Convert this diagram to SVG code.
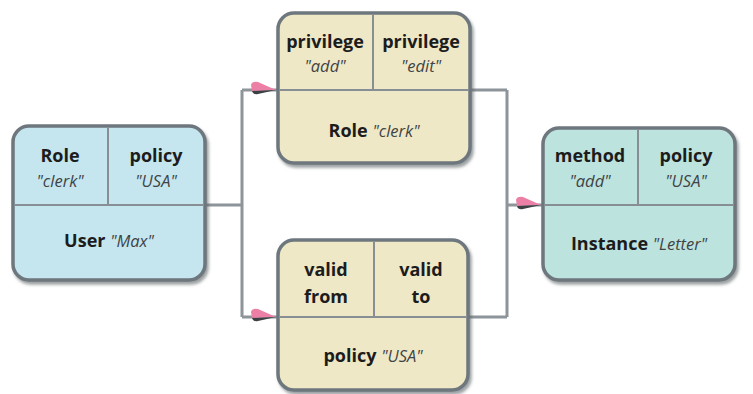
<svg xmlns="http://www.w3.org/2000/svg" width="753" height="394" viewBox="0 0 753 394">
  <style>
    .box { stroke: #6d777d; stroke-width: 3.5; }
    .blue { fill: #c5e6ef; }
    .teal { fill: #bde3de; }
    .sand { fill: #efe8c6; }
    .div { stroke: #878f94; stroke-width: 2; fill: none; }
    .wire { stroke: #8d949a; stroke-width: 3; fill: none; }
    text { font-family: "Open Sans", "Liberation Sans", sans-serif; text-anchor: middle; }
    .b { font-weight: bold; font-size: 18px; fill: #1c1c1c; }
    .i { font-style: italic; font-size: 16.5px; fill: #3f4446; font-weight: normal; }
  </style>
  <defs>
    <filter id="shadow" x="-10%" y="-10%" width="125%" height="130%">
      <feDropShadow dx="2" dy="3" stdDeviation="1.5" flood-color="#5a6266" flood-opacity="0.6"/>
    </filter>
    <!-- pink arrowhead with a darker underside -->
    <g id="head">
      <path d="M0,0 L-18,-8 Q-24,-9 -25,-5 L-24,1 Z" fill="#ec7fa5"/>
      <path d="M0,0 L-24,1 Q-23,5 -18,4 Z" fill="#3a4044"/>
    </g>
  </defs>

  <rect width="753" height="394" fill="#ffffff"/>

  <!-- connectors -->
  <g id="connectors">
    <path class="wire" d="M205,205 H242 M242,90 V317 M242,90 H278 M242,317 H278"/>
    <path class="wire" d="M470,90 H507 M468,317 H507 M507,90 V317 M507,205 H543"/>
    <use href="#head" x="276" y="90"/>
    <use href="#head" x="276" y="317"/>
    <use href="#head" x="541" y="205"/>
  </g>

  <!-- User "Max" -->
  <g id="user-max">
    <rect class="box blue" x="13" y="126" width="192" height="154" rx="16" filter="url(#shadow)"/>
    <path class="div" d="M14,205 H204 M108,127 V205"/>
    <text x="60" y="162" class="b">Role</text>
    <text x="60" y="187" class="i">"clerk"</text>
    <text x="156" y="162" class="b">policy</text>
    <text x="156" y="187" class="i">"USA"</text>
    <text x="109" y="247"><tspan class="b">User </tspan><tspan class="i">"Max"</tspan></text>
  </g>

  <!-- Role "clerk" -->
  <g id="role-clerk">
    <rect class="box sand" x="278" y="13" width="192" height="150" rx="16" filter="url(#shadow)"/>
    <path class="div" d="M279,90 H469 M373,14 V90"/>
    <text x="325" y="48" class="b">privilege</text>
    <text x="325" y="72" class="i">"add"</text>
    <text x="421" y="48" class="b">privilege</text>
    <text x="421" y="72" class="i">"edit"</text>
    <text x="374" y="137"><tspan class="b">Role </tspan><tspan class="i">"clerk"</tspan></text>
  </g>

  <!-- policy "USA" -->
  <g id="policy-usa">
    <rect class="box sand" x="278" y="240" width="190" height="150" rx="16" filter="url(#shadow)"/>
    <path class="div" d="M279,317 H467 M374,241 V317"/>
    <text x="326" y="276" class="b">valid</text>
    <text x="326" y="303" class="b">from</text>
    <text x="421" y="276" class="b">valid</text>
    <text x="421" y="303" class="b">to</text>
    <text x="373" y="362"><tspan class="b">policy </tspan><tspan class="i">"USA"</tspan></text>
  </g>

  <!-- Instance "Letter" -->
  <g id="instance-letter">
    <rect class="box teal" x="543" y="128" width="192" height="152" rx="16" filter="url(#shadow)"/>
    <path class="div" d="M544,205 H734 M638,129 V205"/>
    <text x="590" y="162" class="b">method</text>
    <text x="590" y="187" class="i">"add"</text>
    <text x="686" y="162" class="b">policy</text>
    <text x="686" y="187" class="i">"USA"</text>
    <text x="639" y="250"><tspan class="b">Instance </tspan><tspan class="i">"Letter"</tspan></text>
  </g>
</svg>
